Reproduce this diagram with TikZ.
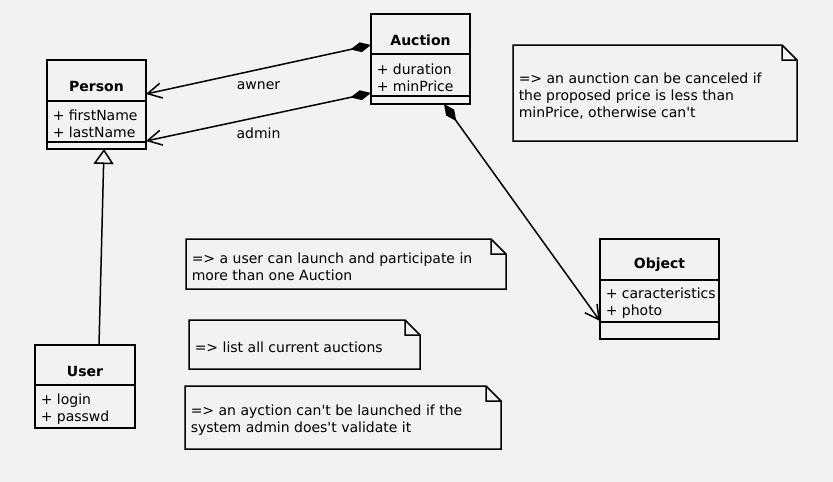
\documentclass[tikz,border=0pt]{standalone}
\usepackage{fontspec}
\setmainfont{DejaVu Sans}
\usetikzlibrary{arrows.meta}
\definecolor{bg}{HTML}{F2F2F2}
\begin{document}
\begin{tikzpicture}[x=1pt, y=-1pt, line width=1.5pt,
  font=\fontsize{14}{17}\selectfont,
  box/.style={draw, anchor=north west, inner sep=0pt, outer sep=0pt},
  title/.style={font=\fontsize{14}{17}\selectfont\bfseries},
  attr/.style={anchor=west, align=left, inner sep=0pt},
  note/.style={anchor=north west, inner sep=0pt, outer sep=0pt},
  notetext/.style={anchor=west, align=left, inner sep=0pt},
  comp/.style={{Diamond[length=21pt,width=10pt]}-{Straight Barb[length=14pt,width=15pt]}},
  inherit/.style={-{Triangle[open,length=15pt,width=20pt]}}]

\fill[bg](0,0) rectangle (833,482);

% classes
\node[box, minimum width=99pt, minimum height=89pt](person) at (47,60){};
\draw(person.west |- 0,101)--(person.east |- 0,101);
\draw(person.west |- 0,142)--(person.east |- 0,142);
\node[title](personT) at (96.5,86){Person};
\node[attr](personA) at (52,124){+ firstName\\+ lastName};

\node[box, minimum width=99pt, minimum height=90pt](auction) at (371,14){};
\draw(auction.west |- 0,54)--(auction.east |- 0,54);
\draw(auction.west |- 0,96)--(auction.east |- 0,96);
\node[title](auctionT) at (420.5,40){Auction};
\node[attr](auctionA) at (376,78){+ duration\\+ minPrice};

\node[box, minimum width=119pt, minimum height=100pt](object) at (600,239){};
\draw(object.west |- 0,280)--(object.east |- 0,280);
\draw(object.west |- 0,322)--(object.east |- 0,322);
\node[title](objectT) at (659.5,265){Object};
\node[attr](objectA) at (605,303){+ caracteristics\\+ photo};

\node[box, minimum width=100pt, minimum height=83pt](user) at (35,345){};
\draw(user.west |- 0,385)--(user.east |- 0,385);
\node[title](userT) at (85,371){User};
\node[attr](userA) at (40,409){+ login\\+ passwd};

% notes
\node[note, minimum width=284pt, minimum height=96pt](noteA) at (513,45){};
\node[note, minimum width=320pt, minimum height=50pt](noteB) at (186,239){};
\node[note, minimum width=231pt, minimum height=49pt](noteC) at (189,320){};
\node[note, minimum width=316pt, minimum height=63pt](noteD) at (185,386){};
\foreach \n in {noteA,noteB,noteC,noteD}
  \draw(\n.north west)--([xshift=-15pt]\n.north east)--([yshift=-15pt]\n.north east)
    --(\n.south east)--(\n.south west)--cycle
    ([xshift=-15pt]\n.north east)|-([yshift=-15pt]\n.north east);
\node[notetext](noteAT) at ([xshift=5pt,yshift=-2.5pt]noteA.west)
  {=> an aunction can be canceled if\\the proposed price is less than\\minPrice, otherwise can\textquotesingle t};
\node[notetext](noteBT) at ([xshift=5pt,yshift=-2.5pt]noteB.west)
  {=> a user can launch and participate in\\more than one Auction};
\node[notetext](noteCT) at ([xshift=5pt,yshift=-2.5pt]noteC.west)
  {=> list all current auctions};
\node[notetext](noteDT) at ([xshift=5pt,yshift=-2.5pt]noteD.west)
  {=> an ayction can\textquotesingle t be launched if the\\system admin does\textquotesingle t validate it};

% connectors
\draw[comp]([yshift=-31pt]auction.north west)--node[midway, yshift=-16pt]{awner}([yshift=-34pt]person.north east);
\draw[comp]([yshift=-79pt]auction.north west)--node[midway, yshift=-16pt]{admin}([yshift=-81pt]person.north east);
\draw[comp]([xshift=73pt]auction.south west)--([yshift=-82pt]object.north west);
\draw[inherit]([xshift=64pt]user.north west)--([xshift=57pt]person.south west);

\end{tikzpicture}
\end{document}
